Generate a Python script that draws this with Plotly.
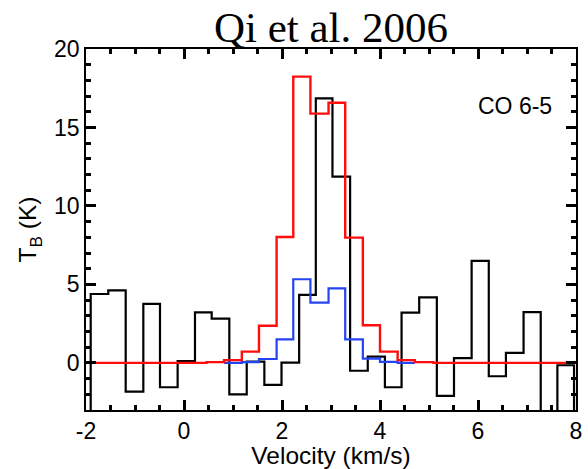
import plotly.graph_objects as go

# ---------------- data ----------------
# black: observed CO 6-5 spectrum (channel edges in km/s, brightness temperature in K)
black_edges = [-2.256, -1.904, -1.545, -1.19, -0.83, -0.49, -0.13, 0.224, 0.565, 0.925,
               1.28, 1.64, 1.99, 2.35, 2.69, 3.03, 3.39, 3.75, 4.10, 4.44,
               4.80, 5.16, 5.51, 5.87, 6.22, 6.57, 6.93, 7.28, 7.62, 7.96, 8.31]
black_tb = [-4.0, 4.39, 4.62, -1.83, 3.76, -1.55, 0.12, 3.22, 2.82, -2.0,
            0.08, -1.4, 0.02, 4.33, 16.86, 11.87, -0.5, 0.4, -1.55, 3.2,
            4.18, -2.1, 0.3, 6.5, -0.85, 0.64, 3.23, -4.0, -0.15, -4.0]

# red: model spectrum
red_edges = [-2.0, 0.46, 0.816, 1.18, 1.53, 1.89, 2.23, 2.58, 2.95, 3.29,
             3.65, 4.0, 4.36, 4.71, 5.09, 8.0]
red_tb = [0.0, 0.05, 0.18, 0.72, 2.37, 8.02, 18.24, 15.88, 16.58, 7.98,
          2.4, 0.72, 0.18, 0.05, 0.0]

# blue: second model spectrum
blue_edges = [0.816, 1.18, 1.53, 1.89, 2.23, 2.58, 2.95, 3.29, 3.65, 4.0, 4.36, 4.71]
blue_tb = [0.0, 0.05, 0.25, 1.5, 5.33, 3.84, 4.75, 1.5, 0.27, 0.07, 0.0]

x_range = [-2, 8]
y_range = [-3, 20]
x_tickvals = [-2, 0, 2, 4, 6, 8]
x_ticktext = ["-2", "0", "2", "4", "6", "8"]
x_minor = [-2, -1.5, -1, -0.5, 0, 0.5, 1, 1.5, 2, 2.5, 3, 3.5, 4, 4.5, 5, 5.5, 6, 6.5, 7, 7.5, 8]
y_tickvals = [0, 5, 10, 15, 20]
y_ticktext = ["0", "5", "10", "15", "20"]
y_minor = [-3, -2, -1, 0, 1, 2, 3, 4, 5, 6, 7, 8, 9, 10, 11, 12, 13, 14, 15, 16, 17, 18, 19, 20]


def steps(edges, vals):
    # 'hv' step line: each value holds from its left edge to the next edge
    return list(edges), list(vals) + [vals[-1]]


fig = go.Figure()
for edges, vals, col, w in [(black_edges, black_tb, "#000000", 2.2),
                            (blue_edges, blue_tb, "#2443f2", 2.2),
                            (red_edges, red_tb, "#ff0d0d", 2.4)]:
    xs, ys = steps(edges, vals)
    fig.add_trace(go.Scatter(x=xs, y=ys, mode="lines",
                             line=dict(color=col, width=w, shape="hv"),
                             showlegend=False, hoverinfo="skip"))

# invisible helper traces so the overlaying tick axes are drawn
for xa, ya in [("x2", "y2"), ("x3", "y3"), ("x4", "y4")]:
    fig.add_trace(go.Scatter(x=[x_range[0]], y=[y_range[0]], xaxis=xa, yaxis=ya,
                             mode="markers", marker=dict(opacity=0), showlegend=False,
                             hoverinfo="skip"))

sans = "Liberation Sans, Arial, Helvetica, sans-serif"
tick_col = "black"

fig.add_annotation(x=6.75, y=16.4, xref="x", yref="y", text="CO 6-5",
                   showarrow=False, font=dict(family=sans, size=23, color="black"))


def tick_axis(rng, vals, side, length, overlay, anchor, line):
    return dict(overlaying=overlay, anchor=anchor, side=side, range=rng, fixedrange=True,
                tickmode="array", tickvals=vals, ticks="inside", ticklen=length, tickwidth=2.5,
                tickcolor=tick_col, showticklabels=False, showline=line, linecolor=tick_col,
                linewidth=1.5, showgrid=False, zeroline=False, automargin=False)


fig.update_layout(
    width=588, height=469,
    margin=dict(l=86, r=12, t=49, b=59),
    paper_bgcolor="white", plot_bgcolor="white",
    title=dict(text="Qi et al. 2006", x=0.5, xref="paper", xanchor="center",
               y=1 - 27 / 469, yref="container", yanchor="middle",
               font=dict(family="Liberation Serif, Times New Roman, serif", size=43, color="black")),
    font=dict(family=sans, color="black"),
    xaxis=dict(range=x_range, fixedrange=True, tickmode="array", tickvals=x_tickvals,
               ticktext=x_ticktext, ticks="inside", ticklen=10, tickwidth=2.5, tickcolor=tick_col,
               showline=True, linecolor=tick_col, linewidth=1.5, showgrid=False, zeroline=False,
               automargin=False,
               tickfont=dict(family=sans, size=23, color="black"),
               title=dict(text="Velocity (km/s)",
                          font=dict(family=sans, size=24.5, color="black"), standoff=4)),
    yaxis=dict(range=y_range, fixedrange=True, tickmode="array", tickvals=y_tickvals,
               ticktext=y_ticktext, ticks="inside", ticklen=10, tickwidth=2.5, tickcolor=tick_col,
               showline=True, linecolor=tick_col, linewidth=1.5, showgrid=False, zeroline=False,
               automargin=False,
               tickfont=dict(family=sans, size=23, color="black"),
               title=dict(text="T<sub>B</sub> (K)",
                          font=dict(family=sans, size=24.5, color="black"), standoff=10)),
    xaxis2=tick_axis(x_range, x_tickvals, "top", 10, "x", "y", True),
    xaxis3=tick_axis(x_range, x_minor, "bottom", 5, "x", "y", False),
    xaxis4=tick_axis(x_range, x_minor, "top", 5, "x", "y", False),
    yaxis2=tick_axis(y_range, y_tickvals, "right", 10, "y", "x", True),
    yaxis3=tick_axis(y_range, y_minor, "left", 5, "y", "x", False),
    yaxis4=tick_axis(y_range, y_minor, "right", 5, "y", "x", False),
)

fig.write_html("out.html")
